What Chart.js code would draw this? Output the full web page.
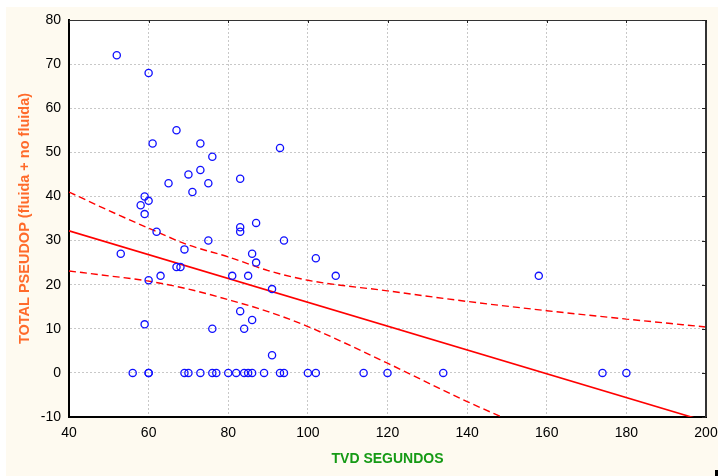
<!DOCTYPE html>
<html>
<head>
<meta charset="utf-8">
<script src="https://cdn.jsdelivr.net/npm/chart.js@4/dist/chart.umd.min.js"></script>
<style>
  html, body { margin: 0; padding: 0; background: #ffffff; }
  #wrap { width: 718px; height: 476px; }
</style>
</head>
<body>
<div id="wrap"><canvas id="c" width="718" height="476"></canvas></div>
<script>
// ---- data ----
const tvdSegundos = [52, 60, 67, 61, 73, 76, 70, 73, 65, 75, 71, 83, 93, 59, 58, 60, 59, 62, 53, 60, 63, 67, 68, 69, 75, 83, 83, 87, 86, 87, 81, 85, 94, 91, 83, 86, 76, 84, 59, 91, 102, 107, 158,
  56, 60, 60, 69, 70, 73, 76, 77, 80, 82, 84, 85, 86, 89, 93, 94, 100, 102, 114, 120, 134, 174, 180];
const totalPseudop = [72, 68, 55, 52, 52, 49, 45, 46, 43, 43, 41, 44, 51, 40, 38, 39, 36, 32, 27, 21, 22, 24, 24, 28, 30, 33, 32, 34, 27, 25, 22, 22, 30, 19, 14, 12, 10, 10, 11, 4, 26, 22, 22,
  0, 0, 0, 0, 0, 0, 0, 0, 0, 0, 0, 0, 0, 0, 0, 0, 0, 0, 0, 0, 0, 0, 0];

// regression line (end points)
const fitX = [40, 200];
const fitY = [32.2, -11.0];

// 95% confidence band, read at several x positions
const bandX = [40, 50, 60, 70, 80, 90, 100, 120, 140, 160, 180, 200];
const upperBand = [41.0, 36.8, 32.8, 29.0, 26.3, 23.2, 21.0, 18.6, 16.2, 14.1, 12.2, 10.4];
const lowerBand = [23.1, 22.0, 20.8, 19.0, 16.6, 13.9, 10.5, 2.2, -6.5, -14.5, -23.0, -31.0];

const xTicks = [40, 60, 80, 100, 120, 140, 160, 180, 200];
const yTicks = [-10, 0, 10, 20, 30, 40, 50, 60, 70, 80];

const xTitle = 'TVD SEGUNDOS';
const yTitle = 'TOTAL PSEUDOP (fluida + no fluida)';

// ---- build datasets ----
const pts = tvdSegundos.map((x, i) => ({ x: x, y: totalPseudop[i] }));
const fitPts = fitX.map((x, i) => ({ x: x, y: fitY[i] }));
const upPts = bandX.map((x, i) => ({ x: x, y: upperBand[i] }));
const loPts = bandX.map((x, i) => ({ x: x, y: lowerBand[i] }));

const bgPlugin = {
  id: 'bg',
  beforeDraw(chart) {
    const ctx = chart.ctx;
    ctx.save();
    ctx.fillStyle = '#ffffff';
    ctx.fillRect(0, 0, chart.width, chart.height);
    ctx.fillStyle = '#fefaf0';
    ctx.fillRect(6, 7, chart.width - 6, chart.height - 7);
    const a = chart.chartArea;
    ctx.fillStyle = '#ffffff';
    ctx.fillRect(a.left, a.top, a.right - a.left, a.bottom - a.top);
    ctx.restore();
  },
  afterDraw(chart) {
    const ctx = chart.ctx;
    const a = chart.chartArea;
    const xs = chart.scales.x, ys = chart.scales.y;
    ctx.save();
    ctx.strokeStyle = '#333333';
    ctx.lineWidth = 1;
    ctx.beginPath();
    ctx.moveTo(a.left, a.top + 0.5);
    ctx.lineTo(a.right, a.top + 0.5);
    ctx.stroke();
    ctx.lineWidth = 2;
    ctx.beginPath();
    ctx.moveTo(a.right, a.top);
    ctx.lineTo(a.right, a.bottom);
    ctx.stroke();
    // inner ticks on top and right frame
    ctx.lineWidth = 1;
    ctx.strokeStyle = '#222222';
    xTicks.forEach(v => {
      const px = Math.round(xs.getPixelForValue(v)) + 0.5;
      ctx.beginPath(); ctx.moveTo(px, a.top); ctx.lineTo(px, a.top + 3); ctx.stroke();
    });
    yTicks.forEach(v => {
      const py = Math.round(ys.getPixelForValue(v)) + 0.5;
      ctx.beginPath(); ctx.moveTo(a.right, py); ctx.lineTo(a.right - 4, py); ctx.stroke();
    });
    ctx.fillStyle = '#000000';
    ctx.fillRect(chart.width - 3, chart.height - 6, 3, 6);
    ctx.restore();
  }
};

const tickFont = { family: '"Liberation Sans", Arial, sans-serif', size: 14 };

new Chart(document.getElementById('c'), {
  type: 'scatter',
  data: {
    datasets: [
      {
        label: 'datos',
        data: pts,
        showLine: false,
        pointStyle: 'circle',
        pointRadius: 3.6,
        pointHoverRadius: 3.6,
        pointBorderWidth: 1.3,
        borderColor: '#1010ff',
        backgroundColor: 'rgba(0,0,0,0)',
        order: 0
      },
      {
        label: 'ajuste',
        data: fitPts,
        showLine: true,
        pointRadius: 0,
        borderColor: '#ff0000',
        borderWidth: 1.6,
        order: 1
      },
      {
        label: 'sup',
        data: upPts,
        showLine: true,
        pointRadius: 0,
        borderColor: '#ff0000',
        borderWidth: 1.4,
        borderDash: [7, 4],
        cubicInterpolationMode: 'monotone',
        order: 2
      },
      {
        label: 'inf',
        data: loPts,
        showLine: true,
        pointRadius: 0,
        borderColor: '#ff0000',
        borderWidth: 1.4,
        borderDash: [7, 4],
        cubicInterpolationMode: 'monotone',
        order: 3
      }
    ]
  },
  options: {
    responsive: false,
    animation: false,
    devicePixelRatio: 1,
    layout: { padding: { left: 0, right: 12, top: 20, bottom: 0 } },
    plugins: { legend: { display: false }, tooltip: { enabled: false } },
    scales: {
      x: {
        type: 'linear',
        min: 40, max: 200,
        afterBuildTicks(s) { s.ticks = xTicks.map(v => ({ value: v })); },
        afterFit(s) { s.height = 59; s.paddingLeft = 0; s.paddingRight = 0; },
        ticks: { color: '#000', font: tickFont, padding: 8, maxRotation: 0 },
        grid: { color: '#c8c8c8', lineWidth: 1, drawTicks: false },
        border: { display: true, color: '#000', width: 2, dash: [2, 2] },
        title: {
          display: true, text: xTitle, color: '#159a15',
          font: { family: '"Liberation Sans", Arial, sans-serif', size: 14, weight: 'bold' },
          padding: { top: 0, bottom: 8 }
        }
      },
      y: {
        type: 'linear',
        min: -10, max: 80,
        afterBuildTicks(s) { s.ticks = yTicks.map(v => ({ value: v })); },
        afterFit(s) { s.width = 69; s.paddingTop = 0; s.paddingBottom = 0; },
        ticks: { color: '#000', font: tickFont, padding: 8 },
        grid: { color: '#c8c8c8', lineWidth: 1, drawTicks: false },
        border: { display: true, color: '#000', width: 2, dash: [2, 2] },
        title: {
          display: true, text: yTitle, color: '#ff6a2a',
          font: { family: '"Liberation Sans", Arial, sans-serif', size: 14.5, weight: 'bold' },
          padding: { top: 16, bottom: 0 }
        }
      }
    }
  },
  plugins: [bgPlugin]
});
</script>
</body>
</html>
